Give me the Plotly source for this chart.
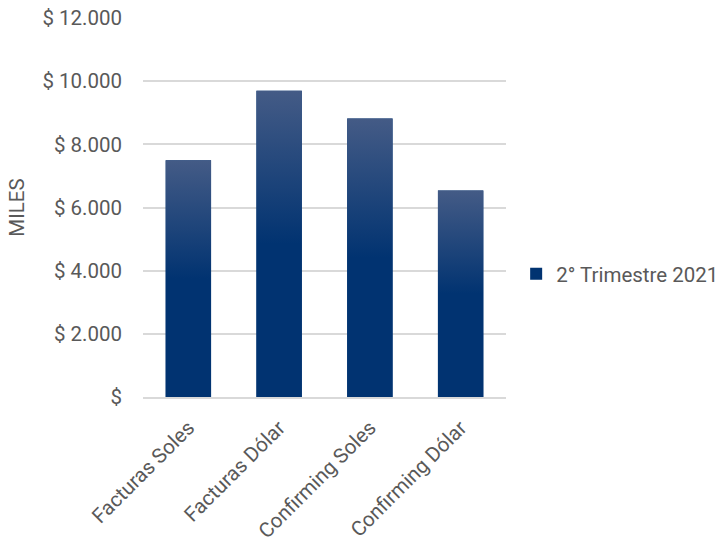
import plotly.graph_objects as go

categories = ["Facturas Soles", "Facturas Dólar", "Confirming Soles", "Confirming Dólar"]
values = [7500, 9700, 8820, 6540]
series_name = "2° Trimestre 2021"
y_tickvals = [0, 2000, 4000, 6000, 8000, 10000, 12000]
y_ticktext = ["$", "$ 2.000", "$ 4.000", "$ 6.000", "$ 8.000", "$ 10.000", "$ 12.000"]

DARK = "#013371"
LIGHT = "#445b86"
FONT = "Roboto"
GRAY = "#595959"
FS = 20.5
half_w = 0.25

fig = go.Figure()
xs = list(range(len(categories)))
fig.add_trace(go.Bar(
    x=xs, y=values, width=2 * half_w, name=series_name,
    marker=dict(color=DARK, line=dict(width=0)), showlegend=True,
))
for i, v in zip(xs, values):
    fig.add_trace(go.Scatter(
        x=[i - half_w, i - half_w, i + half_w, i + half_w, i - half_w],
        y=[0, v, v, 0, 0],
        mode="lines", line=dict(width=0), fill="toself",
        fillgradient=dict(type="vertical", start=0, stop=v,
                          colorscale=[[0, DARK], [0.5, DARK], [1, LIGHT]]),
        showlegend=False, hoverinfo="skip",
    ))

fig.update_layout(
    width=725, height=542,
    margin=dict(l=143, r=219, t=18, b=145, autoexpand=False),
    paper_bgcolor="white", plot_bgcolor="white",
    font=dict(family=FONT, size=FS, color=GRAY),
    legend=dict(x=1.028, y=0.325, xanchor="left", yanchor="middle",
                font=dict(size=FS, color=GRAY), itemwidth=30),
)
fig.update_xaxes(
    range=[-0.5, len(categories) - 0.5], tickvals=xs, ticktext=categories,
    tickangle=-45, showgrid=False, zeroline=False, showline=True,
    linecolor="#d9d9d9", linewidth=1.5, ticks="", ticklen=0,
    tickfont=dict(size=FS, color=GRAY), automargin=False, ticklabelstandoff=9,
)
fig.update_yaxes(
    range=[0, 12000], tickvals=y_tickvals, ticktext=y_ticktext,
    showgrid=True, gridcolor="#d9d9d9", gridwidth=1.5, zeroline=False,
    showline=False, ticks="", tickfont=dict(size=FS, color=GRAY),
    automargin=False, ticklabelstandoff=20,
    title=dict(text="MILES", font=dict(size=FS, color=GRAY), standoff=12),
)
fig.write_html("out.html")
